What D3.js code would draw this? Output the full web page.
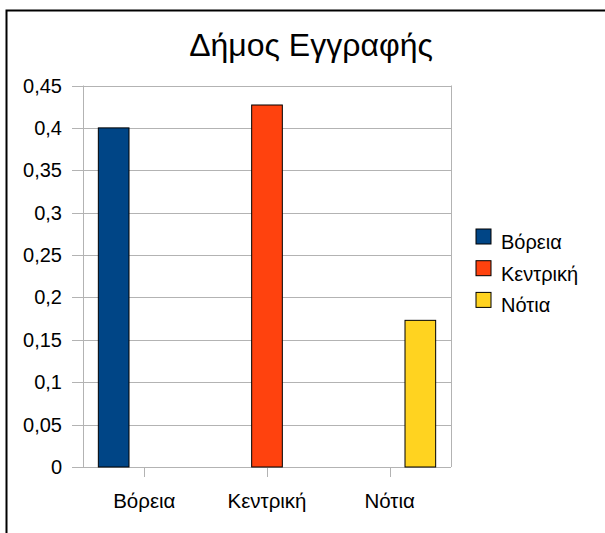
<!DOCTYPE html>
<html>
<head>
<meta charset="utf-8">
<script src="https://cdn.jsdelivr.net/npm/d3@7"></script>
<style>
  html, body { margin: 0; padding: 0; background: #fff; }
  svg { display: block; }
  text { font-family: "Liberation Sans", Arial, sans-serif; fill: #000; }
</style>
</head>
<body>
<svg id="chart" width="605" height="533"></svg>
<script>
const title = "Δήμος Εγγραφής";
const categories = ["Βόρεια", "Κεντρική", "Νότια"];
const seriesNames = ["Βόρεια", "Κεντρική", "Νότια"];
const seriesColors = ["#004586", "#ff420e", "#ffd320"];
const seriesBoreia = [0.4, null, null];
const seriesKentriki = [null, 0.427, null];
const seriesNotia = [null, null, 0.173];
const yTicks = [0, 0.05, 0.1, 0.15, 0.2, 0.25, 0.3, 0.35, 0.4, 0.45];
const yTickLabels = ["0", "0,05", "0,1", "0,15", "0,2", "0,25", "0,3", "0,35", "0,4", "0,45"];

const seriesValues = [seriesBoreia, seriesKentriki, seriesNotia];

const svg = d3.select("#chart");

// outer frame
svg.append("rect")
  .attr("x", 6.5).attr("y", 10.5)
  .attr("width", 700).attr("height", 700)
  .attr("fill", "none").attr("stroke", "#000").attr("stroke-width", 2);

const plot = { left: 83, right: 451, top: 85.5, bottom: 467 };

const y = d3.scaleLinear().domain([0, 0.45]).range([plot.bottom, plot.top]);
const x = d3.scaleBand().domain(categories).range([plot.left, plot.right])
  .paddingInner(0.25).paddingOuter(0.125);
const xSub = d3.scaleBand().domain(seriesNames).range([0, x.bandwidth()]).padding(0);

// gridlines
svg.append("g").selectAll("line").data(yTicks).join("line")
  .attr("x1", plot.left - 11).attr("x2", plot.right)
  .attr("y1", d => Math.round(y(d)) + 0.5).attr("y2", d => Math.round(y(d)) + 0.5)
  .attr("stroke", "#b3b3b3").attr("stroke-width", 1);

// plot frame verticals
[plot.left, plot.right].forEach(px => {
  svg.append("line")
    .attr("x1", px + 0.5).attr("x2", px + 0.5)
    .attr("y1", y(0.45)).attr("y2", plot.bottom)
    .attr("stroke", "#b3b3b3").attr("stroke-width", 1);
});

// x axis ticks at category centers
svg.append("g").selectAll("line").data(categories).join("line")
  .attr("x1", d => Math.round(x(d) + x.bandwidth() / 2) + 0.5)
  .attr("x2", d => Math.round(x(d) + x.bandwidth() / 2) + 0.5)
  .attr("y1", plot.bottom).attr("y2", plot.bottom + 10)
  .attr("stroke", "#b3b3b3").attr("stroke-width", 1);

// bars
seriesValues.forEach((vals, si) => {
  const data = categories.map((c, i) => ({ c, v: vals[i] })).filter(d => d.v != null);
  svg.append("g").selectAll("rect").data(data).join("rect")
    .attr("x", d => x(d.c) + xSub(seriesNames[si]))
    .attr("y", d => y(d.v))
    .attr("width", xSub.bandwidth())
    .attr("height", d => y(0) - y(d.v))
    .attr("fill", seriesColors[si])
    .attr("stroke", "#000").attr("stroke-width", 1);
});

// y tick labels
svg.append("g").selectAll("text").data(yTicks).join("text")
  .attr("x", 62).attr("y", d => y(d))
  .attr("dy", "0.35em")
  .attr("text-anchor", "end")
  .attr("font-size", 20)
  .text((d, i) => yTickLabels[i]);

// x labels
svg.append("g").selectAll("text").data(categories).join("text")
  .attr("x", d => x(d) + x.bandwidth() / 2)
  .attr("y", 508)
  .attr("text-anchor", "middle")
  .attr("font-size", 20.5)
  .text(d => d);

// title
svg.append("text")
  .attr("x", 311).attr("y", 56)
  .attr("text-anchor", "middle")
  .attr("font-size", 32)
  .text(title);

// legend
const legend = svg.append("g");
seriesNames.forEach((n, i) => {
  const ly = 229 + i * 31.7;
  legend.append("rect")
    .attr("x", 476).attr("y", ly)
    .attr("width", 15).attr("height", 15)
    .attr("fill", seriesColors[i])
    .attr("stroke", "#000").attr("stroke-width", 1);
  legend.append("text")
    .attr("x", 501).attr("y", ly + 20)
    .attr("font-size", 20)
    .text(n);
});
</script>
</body>
</html>
